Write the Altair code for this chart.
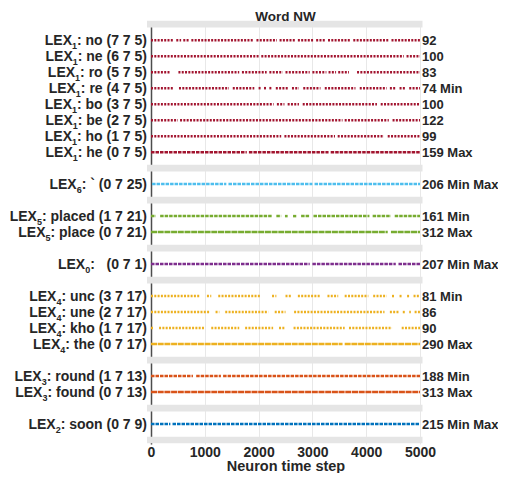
import altair as alt
import pandas as pd

# ---------------- data ----------------
groups = ["LEX1", "LEX6", "LEX5", "LEX0", "LEX4", "LEX3", "LEX2"]
group_sub = ["1", "6", "5", "0", "4", "3", "2"]
group_colors = ["#A2142F", "#4DBEEE", "#77AC30", "#7E2F8E", "#EDB120", "#D95319", "#0072BD"]
group_sizes = [8, 1, 2, 1, 4, 2, 1]

row_words = ["no", "ne", "ro", "re", "bo", "be", "ho", "he",
             "`",
             "placed", "place",
             "",
             "unc", "une", "kho", "the",
             "round", "found",
             "soon"]
row_codes = ["7 7 5", "6 7 5", "5 7 5", "4 7 5", "3 7 5", "2 7 5", "1 7 5", "0 7 5",
             "0 7 25",
             "1 7 21", "0 7 21",
             "0 7 1",
             "3 7 17", "2 7 17", "1 7 17", "0 7 17",
             "1 7 13", "0 7 13",
             "0 7 9"]
spike_counts = [92, 100, 83, 74, 100, 122, 99, 159,
                206,
                161, 312,
                207,
                81, 86, 90, 290,
                188, 313,
                215]
count_tags = ["", "", "", "Min", "", "", "", "Max",
              "Min Max",
              "Min", "Max",
              "Min Max",
              "Min", "", "", "Max",
              "Min", "Max",
              "Min Max"]

# spike runs (start, end) in neuron time steps, one list per row
spike_runs = [
    [(0, 420), (470, 560), (600, 700), (750, 1900), (1960, 2340), (2390, 2680), (2730, 3020),
     (3070, 3240), (3290, 3700), (3760, 4410), (4470, 5000)],
    [(0, 2000), (2050, 4700), (4750, 5000)],
    [(0, 350), (510, 1640), (1690, 2150), (2200, 2450), (2500, 2950), (3000, 3260), (3300, 3440),
     (3480, 3680), (3830, 5000)],
    [(0, 420), (520, 1450), (1520, 1920), (2000, 2050), (2100, 2150), (2200, 2250), (2320, 2550),
     (2620, 2750), (2830, 3150), (3230, 3800), (3880, 4380), (4440, 4550), (4620, 4720), (4800, 5000)],
    [(0, 2280), (2340, 2480), (2540, 2750), (2820, 4200), (4270, 5000)],
    [(0, 500), (540, 3560), (3600, 4420), (4490, 5000)],
    [(0, 2420), (2480, 3420), (3470, 4330), (4400, 5000)],
    [(0, 1780), (1820, 3300), (3340, 5000)],
    [(20, 1400), (1440, 3000), (3040, 5000)],
    [(0, 90), (170, 2250), (2330, 2420), (2490, 2540), (2640, 2700), (2790, 2950), (3020, 4060),
     (4120, 4460), (4530, 5000)],
    [(0, 4400), (4460, 5000)],
    [(0, 2950), (3000, 4550), (4600, 5000)],
    [(0, 900), (1040, 1120), (1250, 2030), (2250, 2330), (2500, 2600), (2730, 3150), (3280, 3480),
     (3600, 4040), (4130, 4380), (4480, 4520), (4620, 4660), (4760, 4800), (4880, 5000)],
    [(0, 1080), (1200, 1270), (1380, 2180), (2300, 2500), (2660, 4340), (4440, 4600), (4680, 4720),
     (4800, 4830), (4900, 5000)],
    [(0, 50), (150, 1000), (1120, 1640), (1750, 2270), (2380, 2500), (2650, 3600), (3680, 4480),
     (4660, 5000)],
    [(0, 3560), (3600, 5000)],
    [(0, 780), (840, 1300), (1340, 5000)],
    [(0, 5000)],
    [(0, 360), (400, 5000)],
]

x_ticks = [0, 1000, 2000, 3000, 4000, 5000]

# ---------------- layout helpers ----------------
FONT = "Liberation Sans"
TXT = "#262626"
LABEL_SIZE = 14
SUB_SIZE = 9

# Helvetica/Arial bold advance widths (per 1000 em)
ADV = {" ": 278, "\u00a0": 278, "(": 333, ")": 333, ":": 333, "`": 333,
       "L": 611, "E": 667, "X": 667,
       "a": 556, "b": 611, "c": 556, "d": 611, "e": 556, "f": 333, "h": 611, "k": 556,
       "l": 278, "n": 611, "o": 611, "p": 611, "r": 389, "s": 556, "t": 333, "u": 611}
for ch in "0123456789":
    ADV[ch] = 556


def text_width(s, size):
    return sum(ADV.get(c, 556) for c in s) * size / 1000.0


LABEL_RIGHT = -4  # px left of the plot's x = 0

row_pos, row_group, band_pos = [], [], [0]
pos = 0
for gi, n in enumerate(group_sizes):
    for _ in range(n):
        pos += 1
        row_pos.append(pos)
        row_group.append(gi)
    pos += 1
    band_pos.append(pos)


def density(c):
    if c < 130:
        return "sparse"
    if c < 250:
        return "medium"
    return "dense"


rows = []
for i, p in enumerate(row_pos):
    g = row_group[i]
    word = row_words[i] if row_words[i] else "\u00a0"
    rest = f": {word} ({row_codes[i]})"
    w_rest = text_width(rest, LABEL_SIZE)
    w_sub = text_width(group_sub[g], SUB_SIZE)
    rows.append({
        "pos": p, "group": groups[g],
        "rest": rest, "sub": group_sub[g], "lex": "LEX",
        "x_rest": LABEL_RIGHT, "x_sub": LABEL_RIGHT - w_rest,
        "x_lex": LABEL_RIGHT - w_rest - w_sub,
        "right": f"{spike_counts[i]} {count_tags[i]}".strip(),
    })
rows_df = pd.DataFrame(rows)

segs = []
for i, runs in enumerate(spike_runs):
    for a, b in runs:
        segs.append({"pos": row_pos[i], "group": groups[row_group[i]], "start": a, "end": b,
                     "density": density(spike_counts[i])})
seg_df = pd.DataFrame(segs)
band_df = pd.DataFrame({"pos": band_pos})

xscale = alt.Scale(domain=[0, 5000], nice=False, zero=False)
yscale = alt.Scale(domain=[-0.2, 26.25], reverse=True, nice=False, zero=False)

x_axis = alt.Axis(values=x_ticks, format="d", title="Neuron time step", grid=True,
                  gridColor="#e8e8e8", gridWidth=1, domain=False, ticks=False, tickSize=0,
                  labelFontSize=14, labelFont=FONT, labelFontWeight="bold", labelColor=TXT,
                  labelBaseline="alphabetic", labelPadding=12.5, labelFlush=False,
                  titleFont=FONT, titleFontSize=14.5, titleFontWeight="bold", titleColor=TXT,
                  titleBaseline="alphabetic", titleY=26.5)
y_axis = alt.Axis(labels=False, ticks=False, grid=False, title=None, domain=True,
                  domainColor="#4d4d4d", domainWidth=1.5)

base_axes = alt.Chart(band_df).mark_rect(opacity=0).encode(
    x=alt.X("x0:Q", scale=xscale, axis=x_axis),
    y=alt.Y("pos:Q", scale=yscale, axis=y_axis),
).transform_calculate(x0="0")

spikes = alt.Chart(seg_df).mark_rule(strokeWidth=2.5, strokeCap="butt").encode(
    x=alt.X("start:Q", scale=xscale),
    x2="end:Q",
    y=alt.Y("pos:Q", scale=yscale),
    color=alt.Color("group:N", scale=alt.Scale(domain=groups, range=group_colors), legend=None),
    strokeDash=alt.StrokeDash("density:N", legend=None,
                              scale=alt.Scale(domain=["sparse", "medium", "dense"],
                                              range=[[2, 1.3], [3.5, 1], [6, 0.7]])),
)

bands = alt.Chart(band_df).transform_calculate(
    top="datum.pos - 0.21", bot="datum.pos + 0.21"
).mark_rect(color="#e5e5e5").encode(
    x=alt.value(-4),
    x2=alt.value(271.5),
    y=alt.Y("top:Q", scale=yscale),
    y2="bot:Q",
)

text_props = dict(baseline="alphabetic", font=FONT, fontWeight="bold", color=TXT)

lex_text = alt.Chart(rows_df).mark_text(align="right", dy=5, fontSize=LABEL_SIZE, **text_props).encode(
    x=alt.X("x_lex:Q", scale=None), y=alt.Y("pos:Q", scale=yscale), text="lex:N")
sub_text = alt.Chart(rows_df).mark_text(align="right", dy=8.5, fontSize=SUB_SIZE, **text_props).encode(
    x=alt.X("x_sub:Q", scale=None), y=alt.Y("pos:Q", scale=yscale), text="sub:N")
rest_text = alt.Chart(rows_df).mark_text(align="right", dy=5, fontSize=LABEL_SIZE, **text_props).encode(
    x=alt.X("x_rest:Q", scale=None), y=alt.Y("pos:Q", scale=yscale), text="rest:N")

right_text = alt.Chart(rows_df).mark_text(
    align="left", dy=5, dx=2, fontSize=13, **text_props
).encode(x=alt.value("width"), y=alt.Y("pos:Q", scale=yscale), text="right:N")

chart = alt.layer(base_axes, spikes, bands, lex_text, sub_text, rest_text, right_text).properties(
    width=269, height=423,
    autosize=alt.AutoSizeParams(type="none"),
    padding={"left": 143, "top": 13, "right": 78, "bottom": 29},
    title=alt.TitleParams("Word NW", font=FONT, fontSize=13.5, fontWeight="bold",
                          color=TXT, anchor="middle", offset=-2.5),
    background="white",
).configure_view(stroke=None)

chart.save("out.html", embed_options={"renderer": "svg", "actions": False})
